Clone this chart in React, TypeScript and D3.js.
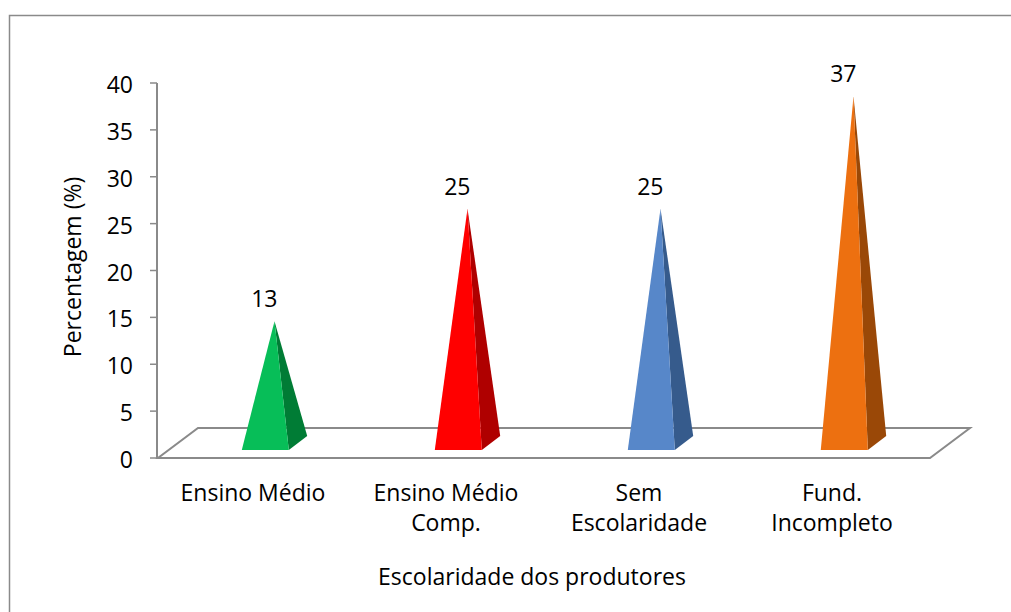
import React from "react";
import * as d3 from "d3";

const categories = ["Ensino Médio", "Ensino Médio\nComp.", "Sem\nEscolaridade", "Fund.\nIncompleto"];
const values = [13, 25, 25, 37];
const yTicks = [0, 5, 10, 15, 20, 25, 30, 35, 40];
const frontColors = ["#07BE58", "#FF0000", "#5787C9", "#ED7010"];
const sideColors = ["#007C35", "#AF0000", "#365B8C", "#9A4807"];
const yTitle = "Percentagem (%)";
const xTitle = "Escolaridade dos produtores";

const W = 1011;
const H = 612;
const FONT = "'Open Sans', sans-serif";

export default function App() {
  const originX = 158;
  const originY = 458;
  const depthDX = 40;
  const depthDY = -30;
  const floorW = 772;

  const x = d3.scaleBand<string>().domain(categories).range([0, floorW]).padding(0);
  const y = d3.scaleLinear().domain([0, 40]).range([0, 375]);

  const px = (xa: number, z: number) => originX + xa + depthDX * z;
  const py = (z: number, v: number) => originY + depthDY * z - y(v);

  const halfW = x.bandwidth() * 0.1218;
  const zFront = 0.27;
  const zBack = 0.73;
  const zMid = (zFront + zBack) / 2;

  const floorPts: [number, number][] = [
    [px(0, 0), py(0, 0)],
    [px(floorW, 0), py(0, 0)],
    [px(floorW, 1), py(1, 0)],
    [px(0, 1), py(1, 0)],
  ];

  return (
    <svg width={W} height={H} style={{ position: "absolute", left: 0, top: 0, background: "#fff" }}>
      <rect x={9.5} y={15.5} width={W + 10} height={H + 10} fill="#fff" stroke="#8a8a8a" strokeWidth={1.5} />
      {/* floor */}
      <polygon points={floorPts.map((p) => p.join(",")).join(" ")} fill="none" stroke="#8a8a8a" strokeWidth={2} />
      {/* y axis */}
      <line x1={157} x2={157} y1={py(0, 0)} y2={py(0, 40)} stroke="#8a8a8a" strokeWidth={2} />
      {yTicks.map((t) => (
        <g key={t}>
          <line x1={150} x2={157} y1={py(0, t)} y2={py(0, t)} stroke="#8a8a8a" strokeWidth={1.5} />
          <text x={133} y={py(0, t) + 1} textAnchor="end" dominantBaseline="central" fontFamily={FONT} fontSize={23} fill="#000">
            {t}
          </text>
        </g>
      ))}
      {/* pyramids */}
      {categories.map((c, i) => {
        const cx = (x(c) as number) + x.bandwidth() / 2;
        const v = values[i];
        const fl: [number, number] = [px(cx - halfW, zFront), py(zFront, 0)];
        const fr: [number, number] = [px(cx + halfW, zFront), py(zFront, 0)];
        const br: [number, number] = [px(cx + halfW, zBack), py(zBack, 0)];
        const apex: [number, number] = [px(cx, zMid), py(zMid, v)];
        const front = [fl, fr, apex].map((p) => p.join(",")).join(" ");
        const side = [fr, br, apex].map((p) => p.join(",")).join(" ");
        return (
          <g key={c}>
            <polygon points={side} fill={sideColors[i]} />
            <polygon points={front} fill={frontColors[i]} />
            <text x={px(cx, zFront) - 1} y={apex[1] - 14} textAnchor="middle" fontFamily={FONT} fontSize={23} fill="#000">
              {v}
            </text>
          </g>
        );
      })}
      {/* category labels */}
      {categories.map((c) => {
        const cx = originX + (x(c) as number) + x.bandwidth() / 2 - 1.5;
        return (
          <text key={c} x={cx} y={501} textAnchor="middle" fontFamily={FONT} fontSize={23} fill="#000">
            {c.split("\n").map((line, j) => (
              <tspan key={j} x={cx} dy={j === 0 ? 0 : 30}>
                {line}
              </tspan>
            ))}
          </text>
        );
      })}
      {/* axis titles */}
      <text x={532} y={585} textAnchor="middle" fontFamily={FONT} fontSize={23} fill="#000">
        {xTitle}
      </text>
      <text
        transform={`translate(81, 267) rotate(-90)`}
        textAnchor="middle"
        fontFamily={FONT}
        fontSize={23}
        fill="#000"
      >
        {yTitle}
      </text>
    </svg>
  );
}
